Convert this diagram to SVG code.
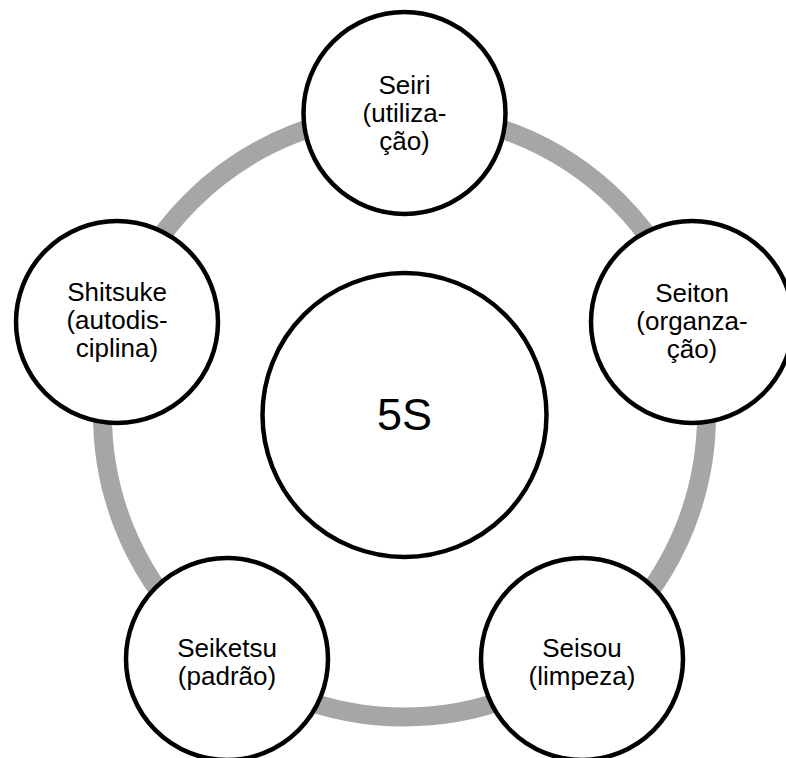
<svg xmlns="http://www.w3.org/2000/svg" width="786" height="758" viewBox="0 0 786 758">
<style>
.node{fill:#ffffff;stroke:#000000;stroke-width:4.5}
.lbl{font-family:"Liberation Sans",Arial,sans-serif;font-size:26px;fill:#000000;text-anchor:middle}
.big{font-family:"Liberation Sans",Arial,sans-serif;font-size:45px;fill:#000000;text-anchor:middle}
.ring{fill:none;stroke:#a6a6a6;stroke-width:19}
</style>
<rect width="786" height="758" fill="#ffffff"/>
<g id="connectors">
<circle class="ring" cx="404.5" cy="415" r="302"/>
</g>
<g id="center">
<circle class="node" cx="404.5" cy="415" r="142"/>
<text class="big" x="404.5" y="430">5S</text>
</g>
<g id="seiri">
<circle class="node" cx="404.5" cy="113" r="101"/>
<text class="lbl" x="404.5" y="94">Seiri</text>
<text class="lbl" x="404.5" y="122">(utiliza-</text>
<text class="lbl" x="404.5" y="150">ção)</text>
</g>
<g id="seiton">
<circle class="node" cx="692" cy="322" r="101"/>
<text class="lbl" x="692" y="302">Seiton</text>
<text class="lbl" x="692" y="330">(organza-</text>
<text class="lbl" x="692" y="358">ção)</text>
</g>
<g id="seisou">
<circle class="node" cx="582" cy="659" r="101"/>
<text class="lbl" x="582" y="657">Seisou</text>
<text class="lbl" x="582" y="685">(limpeza)</text>
</g>
<g id="seiketsu">
<circle class="node" cx="227" cy="659" r="101"/>
<text class="lbl" x="227" y="657">Seiketsu</text>
<text class="lbl" x="227" y="685">(padrão)</text>
</g>
<g id="shitsuke">
<circle class="node" cx="117" cy="322" r="101"/>
<text class="lbl" x="117" y="301">Shitsuke</text>
<text class="lbl" x="117" y="329">(autodis-</text>
<text class="lbl" x="117" y="357">ciplina)</text>
</g>
</svg>
